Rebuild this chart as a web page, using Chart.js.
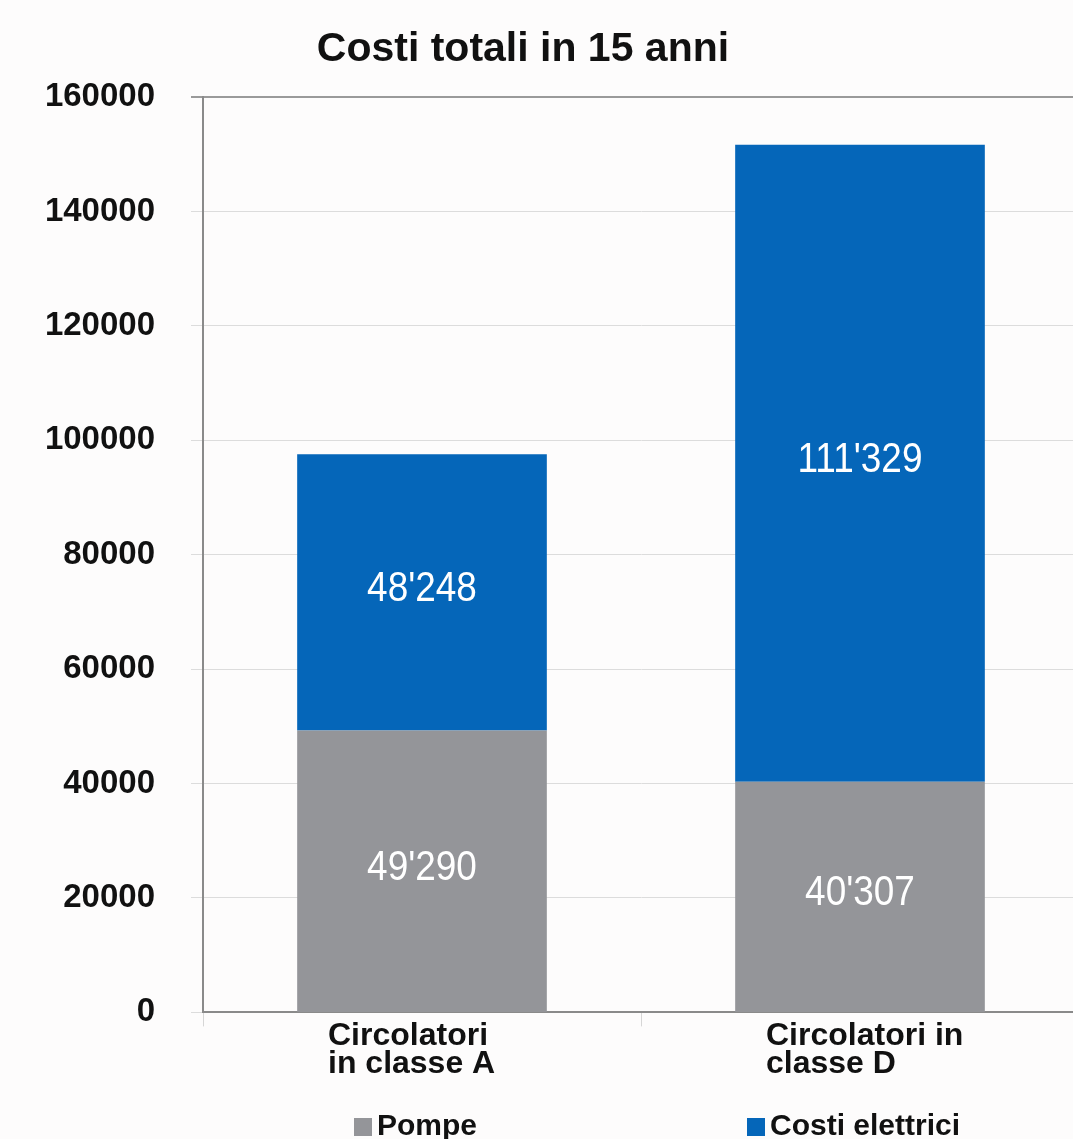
<!DOCTYPE html>
<html>
<head>
<meta charset="utf-8">
<script src="https://cdn.jsdelivr.net/npm/chart.js@4/dist/chart.umd.min.js"></script>
<style>
  html, body { margin: 0; padding: 0; background: #fdfcfc; overflow: hidden; }
  #wrap { position: relative; width: 1080px; height: 1139px; }
  #title { position: absolute; left: 0; width: 1046px; top: 24px; text-align: center; font: bold 41px "Liberation Sans", Arial, sans-serif; color: #111; line-height: 46px; }
  .leg { position: absolute; top: 1110px; font: bold 30px "Liberation Sans", Arial, sans-serif; color: #111; line-height: 30px; white-space: nowrap; }
  .leg i { display: inline-block; width: 18px; height: 18px; margin-right: 5px; vertical-align: -1px; }
</style>
</head>
<body>
<div id="wrap">
  <canvas id="myChart" width="1080" height="1139"></canvas>
  <div id="title">Costi totali in 15 anni</div>
  <div class="leg" style="left:354px"><i style="background:#949599"></i>Pompe</div>
  <div class="leg" style="left:747px"><i style="background:#0566b9"></i>Costi elettrici</div>
</div>
<script>
let categories = [["Circolatori", "in classe A"], ["Circolatori in", "classe D"]];
let pompe = [49290, 40307];
let costiElettrici = [48248, 111329];
let yTicks = [0, 20000, 40000, 60000, 80000, 100000, 120000, 140000, 160000];

let ctx = document.getElementById('myChart');

// thousands separator with apostrophe, like 48'248
function fmt(v) {
	return String(v).replace(/\B(?=(\d{3})+(?!\d))/g, "'");
}

const barLabels = {
	id: 'barLabels',
	afterDatasetsDraw(chart) {
		let c = chart.ctx;
		chart.data.datasets.forEach((ds, i) => {
			chart.getDatasetMeta(i).data.forEach((bar, j) => {
				let p = bar.getCenterPoint();
				c.save();
				c.translate(p.x, p.y - 3);
				c.scale(0.88, 1); // condensed look
				c.fillStyle = '#ffffff';
				c.font = '42px "Liberation Sans", Arial, sans-serif';
				c.textAlign = 'center';
				c.textBaseline = 'middle';
				c.fillText(fmt(ds.data[j]), 0, 0);
				c.restore();
			});
		});
	}
};

let myChart = new Chart(ctx, {
	type: 'bar',
	data: {
		labels: categories,
		datasets: [{
			label: 'Pompe',
			data: pompe,
			backgroundColor: '#949599'
		}, {
			label: 'Costi elettrici',
			data: costiElettrici,
			backgroundColor: '#0566b9'
		}]
	},
	options: {
		responsive: false,
		animation: false,
		layout: { padding: { left: 0, right: 1, top: 97, bottom: 35 } },
		datasets: { bar: { categoryPercentage: 1, barPercentage: 0.57 } },
		plugins: {
			legend: { display: false },
			tooltip: { enabled: false },
			title: { display: false }
		},
		scales: {
			x: {
				stacked: true,
				afterFit(scale) { scale.height += 30; },
				grid: { offset: true, drawOnChartArea: false, drawTicks: true, tickLength: 14, color: '#d6d6d6' },
				border: { color: '#8a8a8a', width: 2 },
				ticks: {
					color: '#111',
					align: 'start',
					labelOffset: -94,
					padding: -5,
					font: { family: '"Liberation Sans", Arial, sans-serif', size: 32, weight: 'bold', lineHeight: 0.9 }
				}
			},
			y: {
				stacked: true,
				min: 0,
				max: 160000,
				afterFit(scale) { scale.width = 203; },
				afterBuildTicks(scale) { scale.ticks = yTicks.map(v => ({ value: v })); },
				grid: {
					tickLength: 12,
					color: (c) => c.tick && c.tick.value === 160000 ? '#9a9a9a' : '#dcdcdc',
					lineWidth: (c) => c.tick && c.tick.value === 160000 ? 2 : 1
				},
				border: { color: '#8a8a8a', width: 2 },
				ticks: {
					color: '#111',
					padding: 36,
					callback: (v) => String(v),
					font: { family: '"Liberation Sans", Arial, sans-serif', size: 33, weight: 'bold' }
				}
			}
		}
	},
	plugins: [barLabels]
});
</script>
</body>
</html>
